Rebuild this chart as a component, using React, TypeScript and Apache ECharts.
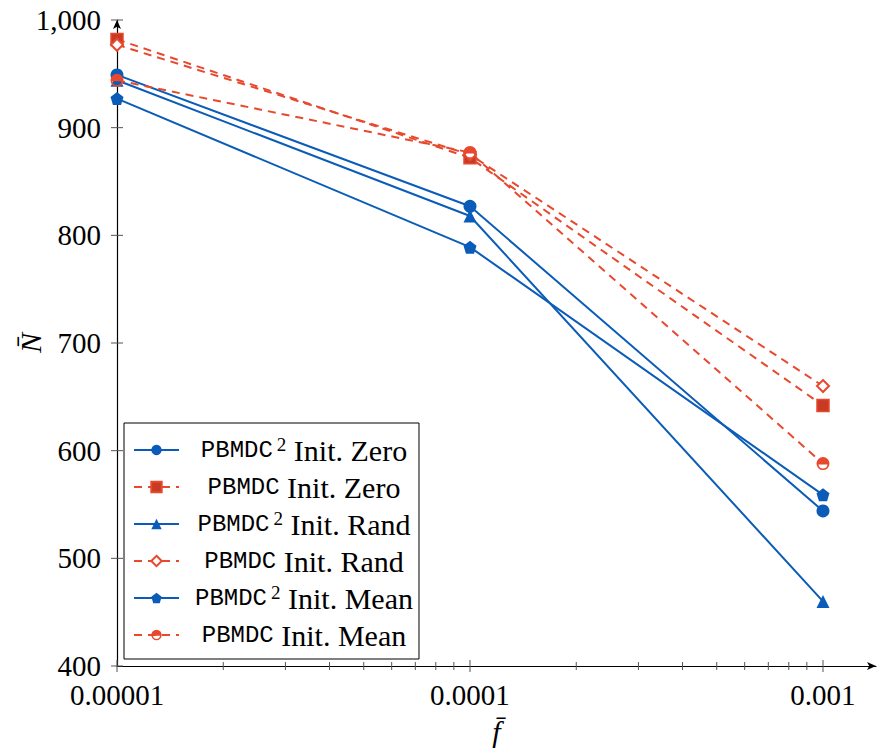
import React, { useEffect, useRef } from "react";
import * as echarts from "echarts";

const fValues = [0.00001, 0.0001, 0.001];
const pbmdc2Zero = [949, 827, 544];
const pbmdcZero = [982, 872, 642];
const pbmdc2Rand = [944, 818, 460];
const pbmdcRand = [977, 875, 660];
const pbmdc2Mean = [927, 789, 559];
const pbmdcMean = [944, 877, 588];

const xMajorTicks = [0.00001, 0.0001, 0.001];
const xMinorTicks = [
  0.00002, 0.00003, 0.00004, 0.00005, 0.00006, 0.00007, 0.00008, 0.00009,
  0.0002, 0.0003, 0.0004, 0.0005, 0.0006, 0.0007, 0.0008, 0.0009,
];
const yTicks = [400, 500, 600, 700, 800, 900, 1000];

const BLUE = "#0a5cb8";
const RED = "#e8492e";
const RED_DARK = "#c73a24";

const SERIF = "'Liberation Serif', 'Times New Roman', serif";
const MONO = "'Liberation Mono', 'DejaVu Sans Mono', monospace";

const PENTAGON = "path://M10,0 L19.5,6.9 L15.9,18 L4.1,18 L0.5,6.9 Z";
const HALF_CIRCLE =
  "path://M0,10 A10,10 0 1,1 20,10 A10,10 0 1,1 0,10 Z M3.07,11.5 A7,7 0 0,0 16.93,11.5 Z";

export default function App() {
  const ref = useRef<HTMLDivElement>(null);
  useEffect(() => {
    if (!ref.current) return;
    const chart = echarts.init(ref.current, undefined, { renderer: "svg" });

    const mk = (vals: number[]) => vals.map((v, i) => [fValues[i], v]);

    const blueLine = (name: string, vals: number[], symbol: string) => ({
      name,
      type: "line",
      data: mk(vals),
      symbol,
      symbolSize: 13,
      lineStyle: { color: BLUE, width: 2 },
      itemStyle: { color: BLUE },
      z: 3,
    });
    const redLine = (name: string, vals: number[], symbol: string, itemStyle: any, size = 13) => ({
      name,
      type: "line",
      data: mk(vals),
      symbol,
      symbolSize: size,
      lineStyle: { color: RED, width: 2, type: [8, 6] },
      itemStyle,
      z: 3,
    });

    const names = [
      "PBMDC² Init. Zero",
      "PBMDC Init. Zero",
      "PBMDC² Init. Rand",
      "PBMDC Init. Rand",
      "PBMDC² Init. Mean",
      "PBMDC Init. Mean",
    ];

    const tickData = [
      ...xMajorTicks.map((v) => [v, 400, 6, 0]),
      ...xMinorTicks.map((v) => [v, 400, 4, 0]),
      ...yTicks.map((v) => [0.00001, v, 6, 1]),
    ];

    chart.setOption({
      animation: false,
      grid: { left: 117, right: 2, top: 20, bottom: 87, containLabel: false, outerBoundsMode: "none" },
      xAxis: {
        type: "log",
        logBase: 10,
        min: 0.00001,
        max: 0.001413,
        name: "f̄",
        nameLocation: "middle",
        nameGap: 50,
        nameMoveOverlap: false,
        nameTextStyle: { fontFamily: SERIF, fontStyle: "italic", fontSize: 30, color: "#000" },
        axisLine: {
          lineStyle: { color: "#000", width: 1.2 },
          symbol: ["none", "arrow"],
          symbolSize: [6, 9],
        },
        axisTick: { show: false },
        splitLine: { show: false },
        axisLabel: {
          margin: 14,
          color: "#000",
          fontFamily: SERIF,
          fontSize: 29,
          formatter: (v: number) => {
            const e = Math.log10(v);
            const r = Math.round(e);
            if (Math.abs(e - r) > 1e-6) return "";
            return Math.pow(10, r).toFixed(-r);
          },
        },
      },
      yAxis: {
        type: "value",
        min: 400,
        max: 1000,
        interval: 100,
        name: "N̄",
        nameLocation: "middle",
        nameGap: 72,
        nameMoveOverlap: false,
        nameTextStyle: { fontFamily: SERIF, fontStyle: "italic", fontSize: 30, color: "#000" },
        axisLine: {
          show: true,
          lineStyle: { color: "#000", width: 1.2 },
          symbol: ["none", "arrow"],
          symbolSize: [6, 9],
        },
        axisTick: { show: false },
        splitLine: { show: false },
        axisLabel: {
          margin: 16,
          color: "#000",
          fontFamily: SERIF,
          fontSize: 29,
          formatter: (v: number) => (v >= 1000 ? v.toLocaleString("en-US") : String(v)),
        },
      },
      legend: {
        data: names,
        orient: "vertical",
        left: 124,
        top: 423,
        itemWidth: 45,
        itemHeight: 13,
        itemGap: 7,
        padding: [12, 6, 9, 9],
        borderColor: "#000",
        borderWidth: 1,
        backgroundColor: "#fff",
        formatter: (name: string) => {
          const sup = name.startsWith("PBMDC²");
          const rest = name.replace(/^PBMDC²?/, "");
          return sup ? `{m|PBMDC}{s|2}{t|${rest}}` : `{m|PBMDC}{t|${rest}}`;
        },
        textStyle: {
          width: 240,
          color: "#000",
          rich: {
            m: { fontFamily: MONO, fontSize: 24, color: "#000", align: "center", lineHeight: 30 },
            s: { fontFamily: SERIF, fontSize: 19, color: "#000", align: "center", verticalAlign: "top", lineHeight: 18, padding: [0, 0, 0, 4] },
            t: { fontFamily: SERIF, fontSize: 30, color: "#000", align: "center", lineHeight: 30 },
          },
        },
      },
      series: [
        {
          name: "ticks",
          type: "custom",
          data: tickData,
          silent: true,
          clip: false,
          z: 1,
          renderItem: (params: any, api: any) => {
            const p = api.coord([api.value(0), api.value(1)]);
            const len = api.value(2);
            const vertical = api.value(3) === 0;
            return {
              type: "line",
              shape: vertical
                ? { x1: p[0], y1: p[1] - len, x2: p[0], y2: p[1] + len }
                : { x1: p[0] - len, y1: p[1], x2: p[0] + len, y2: p[1] },
              style: { stroke: "#555", lineWidth: 1 },
            };
          },
        },
        blueLine(names[0], pbmdc2Zero, "circle"),
        redLine(names[1], pbmdcZero, "rect", { color: RED_DARK, borderColor: RED, borderWidth: 1.5 }, 12),
        blueLine(names[2], pbmdc2Rand, "triangle"),
        redLine(names[3], pbmdcRand, "diamond", { color: "#fff", borderColor: RED, borderWidth: 2 }, 12),
        blueLine(names[4], pbmdc2Mean, PENTAGON),
        redLine(names[5], pbmdcMean, HALF_CIRCLE, { color: RED }),
      ],
    });
    return () => chart.dispose();
  }, []);
  return (
    <div
      ref={ref}
      style={{ position: "fixed", left: 0, top: 0, width: 878, height: 753, background: "#fff" }}
    />
  );
}
